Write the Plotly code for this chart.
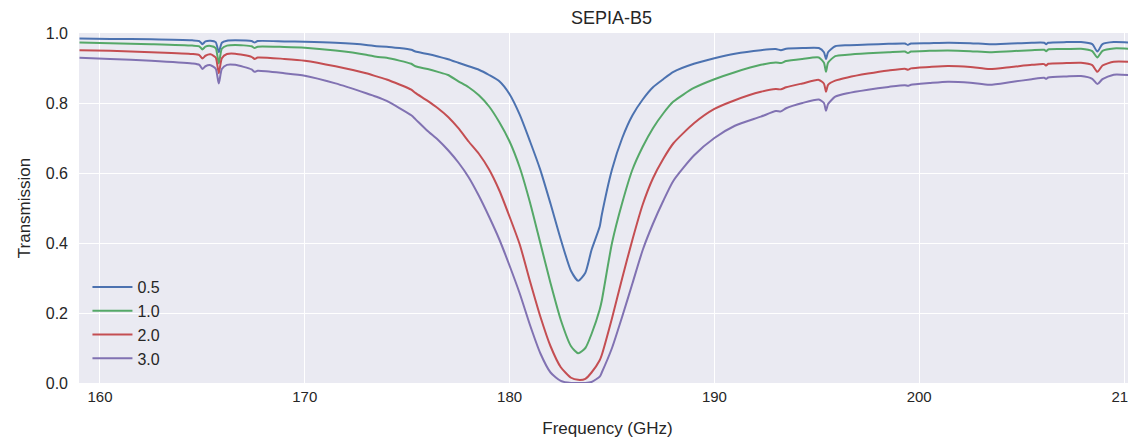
import plotly.graph_objects as go

# frequency grid (GHz)
freq = [159.0, 160.5, 162.5, 164.5, 164.85, 165.0, 165.15, 165.4, 165.65, 165.8,
        165.95, 166.2, 166.6, 167.4, 167.55, 167.7, 169.0, 170.0, 171.5, 173.0,
        173.5, 174.0, 175.2, 175.4, 176.0, 176.5, 177.0, 177.5, 178.0, 178.5,
        179.0, 179.5, 180.0, 180.5, 181.0, 181.5, 182.0, 182.5, 183.0, 183.35,
        183.7, 184.0, 184.4, 184.5, 185.0, 185.5, 186.0, 186.5, 187.0, 187.5,
        188.0, 189.0, 190.0, 191.0, 192.27, 193.0, 193.25, 193.5, 194.3, 195.1,
        195.35, 195.45, 195.55, 195.9, 196.5, 197.5, 198.5, 199.3, 199.45, 199.6,
        200.5, 201.4, 202.5, 203.44, 204.5, 205.5, 206.1, 206.2, 206.3, 207.2,
        207.9, 208.45, 208.7, 208.95, 209.5, 210.6]

# transmission for each PWV (mm)
pwv_05 = [0.984, 0.983, 0.982, 0.979, 0.977, 0.968, 0.976, 0.978, 0.974, 0.945,
          0.972, 0.978, 0.979, 0.977, 0.973, 0.977, 0.976, 0.975, 0.972, 0.966,
          0.962, 0.961, 0.952, 0.947, 0.940, 0.933, 0.925, 0.915, 0.905, 0.895,
          0.880, 0.862, 0.825, 0.766, 0.690, 0.609, 0.512, 0.410, 0.320, 0.292,
          0.315, 0.380, 0.447, 0.480, 0.610, 0.700, 0.765, 0.810, 0.845, 0.868,
          0.889, 0.912, 0.928, 0.941, 0.951, 0.954, 0.951, 0.955, 0.957, 0.957,
          0.945, 0.925, 0.945, 0.962, 0.965, 0.967, 0.969, 0.970, 0.966, 0.970,
          0.971, 0.972, 0.971, 0.968, 0.970, 0.972, 0.972, 0.968, 0.972, 0.974,
          0.974, 0.968, 0.947, 0.968, 0.974, 0.972]

pwv_10 = [0.973, 0.971, 0.968, 0.964, 0.962, 0.953, 0.961, 0.963, 0.957, 0.913,
          0.955, 0.964, 0.966, 0.962, 0.957, 0.961, 0.960, 0.958, 0.950, 0.938,
          0.932, 0.929, 0.912, 0.905, 0.897, 0.889, 0.880, 0.862, 0.845, 0.822,
          0.790, 0.745, 0.690, 0.615, 0.515, 0.400, 0.285, 0.180, 0.105, 0.085,
          0.100, 0.140, 0.210, 0.235, 0.400, 0.515, 0.610, 0.675, 0.728, 0.770,
          0.804, 0.843, 0.868, 0.888, 0.909, 0.916, 0.914, 0.920, 0.926, 0.930,
          0.915, 0.889, 0.915, 0.934, 0.938, 0.942, 0.945, 0.947, 0.943, 0.947,
          0.949, 0.950, 0.948, 0.945, 0.948, 0.951, 0.952, 0.948, 0.953, 0.954,
          0.955, 0.948, 0.930, 0.949, 0.956, 0.954]

pwv_20 = [0.951, 0.949, 0.945, 0.940, 0.937, 0.927, 0.935, 0.939, 0.930, 0.885,
          0.928, 0.940, 0.941, 0.932, 0.926, 0.930, 0.926, 0.921, 0.905, 0.885,
          0.876, 0.867, 0.838, 0.829, 0.806, 0.785, 0.760, 0.728, 0.690, 0.655,
          0.610, 0.550, 0.475, 0.395, 0.290, 0.190, 0.105, 0.045, 0.015, 0.009,
          0.012, 0.030, 0.065, 0.080, 0.185, 0.300, 0.410, 0.510, 0.585, 0.640,
          0.685, 0.742, 0.783, 0.808, 0.832, 0.840, 0.839, 0.845, 0.856, 0.866,
          0.855, 0.832, 0.852, 0.864, 0.873, 0.884, 0.893, 0.898, 0.895, 0.899,
          0.903, 0.906, 0.903, 0.897, 0.903, 0.909, 0.911, 0.907, 0.912, 0.914,
          0.915, 0.908, 0.889, 0.907, 0.918, 0.917]

pwv_30 = [0.929, 0.926, 0.921, 0.913, 0.909, 0.897, 0.905, 0.908, 0.898, 0.856,
          0.897, 0.909, 0.909, 0.896, 0.889, 0.892, 0.885, 0.878, 0.856, 0.828,
          0.818, 0.806, 0.765, 0.754, 0.720, 0.695, 0.665, 0.630, 0.588, 0.535,
          0.475, 0.410, 0.335, 0.255, 0.165, 0.085, 0.030, 0.006, 0.000, 0.000,
          0.000, 0.003, 0.018, 0.030, 0.100, 0.190, 0.285, 0.380, 0.455, 0.520,
          0.578, 0.650, 0.700, 0.735, 0.761, 0.777, 0.776, 0.785, 0.800, 0.810,
          0.800, 0.778, 0.797, 0.818, 0.828, 0.838, 0.846, 0.851, 0.849, 0.852,
          0.857, 0.861, 0.858, 0.852, 0.860, 0.868, 0.872, 0.869, 0.873, 0.876,
          0.877, 0.869, 0.854, 0.868, 0.881, 0.878]

series = [
    ("0.5", pwv_05, "#4C72B0"),
    ("1.0", pwv_10, "#55A868"),
    ("2.0", pwv_20, "#C44E52"),
    ("3.0", pwv_30, "#8172B2"),
]

fig = go.Figure()
for name, vals, color in series:
    fig.add_trace(go.Scatter(
        x=freq, y=vals, mode="lines", name=name,
        line=dict(color=color, width=2, shape="spline", smoothing=0.6),
    ))

text_color = "#262626"
# page body has an 8px default margin, so the figure is drawn 8px in
fig.update_layout(
    width=1128, height=431,
    margin=dict(l=71, r=0, t=25, b=56),
    paper_bgcolor="white",
    plot_bgcolor="#EAEAF2",
    font=dict(family="Liberation Sans, Arial, sans-serif", size=16, color=text_color),
    title=dict(text="SEPIA-B5", x=0.535, xanchor="center", y=0.977, yanchor="middle",
               font=dict(size=18, color=text_color)),
    showlegend=True,
    legend=dict(x=0.008, y=0.02, xanchor="left", yanchor="bottom",
                bgcolor="rgba(0,0,0,0)", font=dict(size=16),
                tracegroupgap=0, itemwidth=40),
)
fig.update_xaxes(
    range=[158.975, 210.586], tickvals=[160, 170, 180, 190, 200, 210],
    showgrid=True, gridcolor="white", gridwidth=1.3, zeroline=False,
    showline=False, ticks="", ticklabelstandoff=3, ticklabeloverflow="allow",
    tickfont=dict(size=15),
    title=dict(text="Frequency (GHz)", font=dict(size=17), standoff=18),
)
fig.update_yaxes(
    range=[0, 1.0], tickvals=[0.0, 0.2, 0.4, 0.6, 0.8, 1.0],
    ticktext=["0.0", "0.2", "0.4", "0.6", "0.8", "1.0"],
    showgrid=True, gridcolor="white", gridwidth=1.3, zeroline=False,
    showline=False, ticks="", ticklabelstandoff=10,
    title=dict(text="Transmission", font=dict(size=17), standoff=10),
)

# page is a few px taller than the window; hide the scrollbar it would get
fig.write_html(
    "out.html",
    post_script="document.documentElement.style.overflow = 'hidden'; "
                "document.body.style.overflow = 'hidden';",
)
